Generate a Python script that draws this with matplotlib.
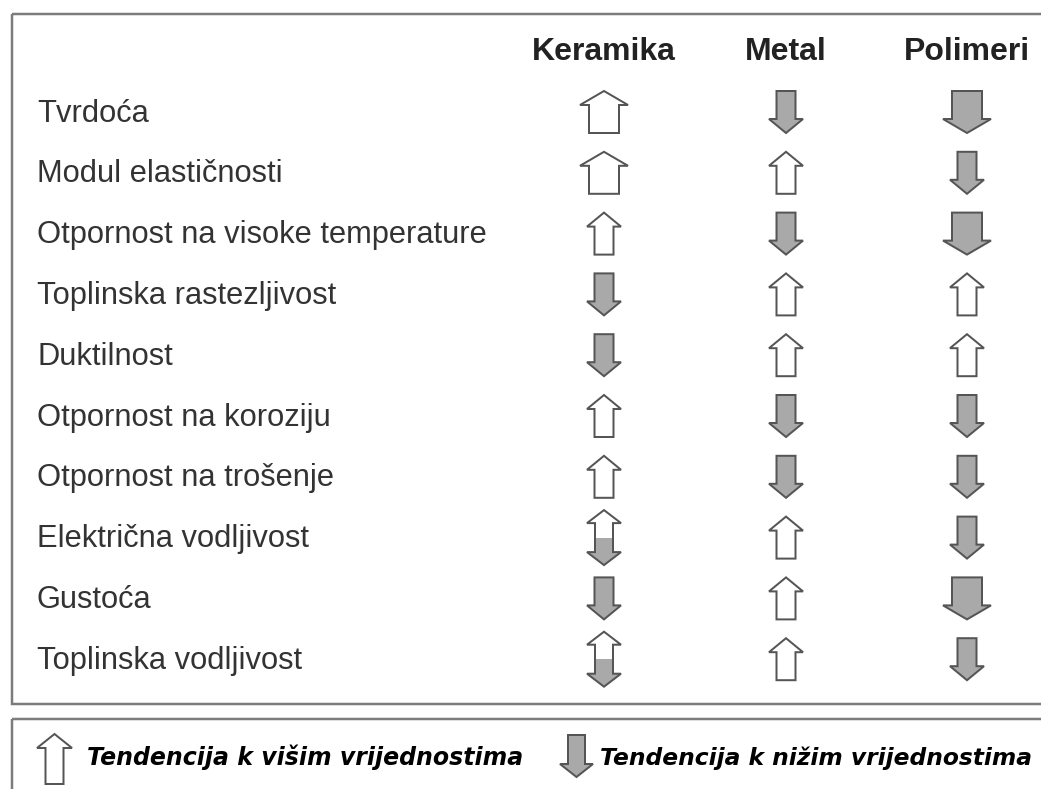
import matplotlib
matplotlib.use("Agg")
import matplotlib.pyplot as plt
from matplotlib.patches import Polygon, Rectangle
from matplotlib import font_manager

# ---------- DATA ----------------
svojstva = ["Tvrdoća", "Modul elastičnosti", "Otpornost na visoke temperature",
            "Toplinska rastezljivost", "Duktilnost", "Otpornost na koroziju",
            "Otpornost na trošenje", "Električna vodljivost", "Gustoća",
            "Toplinska vodljivost"]
materijali = ["Keramika", "Metal", "Polimeri"]
# tendencija: +2/+1 više (jako/umjereno), -1/-2 niže, 0 = ovisi (oba smjera)
keramika = [+2, +2, +1, -1, -1, +1, +1, 0, -1, 0]
metal    = [-1, +1, -1, +1, +1, -1, -1, +1, +1, +1]
polimeri = [-2, -1, -2, +1, +1, -1, -1, -1, -2, -1]
legenda  = ["Tendencija k višim vrijednostima", "Tendencija k nižim vrijednostima"]

# ---------- STIL ----------------
PX = 0.72                      # 1 px u pt (dpi 100)
C_EDGE = "#555555"; C_FILL = "#a9a9a9"; C_BOX = "#7c7c7c"
C_TXT = "#333333"; C_HEAD = "#222222"
COL_X = [604, 786, 967]        # sredine stupaca (px)
ROW0, ROW_DY = 110, 60.8       # prvi red, razmak redova
LABEL_X = 37

narrow = "Liberation Sans Narrow"
have_narrow = any(f.name == narrow for f in font_manager.fontManager.ttflist)

fig = plt.figure(figsize=(10.41, 7.89), dpi=100)
ax = fig.add_axes([0, 0, 1, 1])
ax.set_xlim(0, 1041); ax.set_ylim(789, 0); ax.axis("off")


def arrow(cx, cy, up, W, S, H, h, fill):
    t, b = cy - H/2, cy + H/2
    if up:
        pts = [(cx, t), (cx+W/2, t+h), (cx+S/2, t+h), (cx+S/2, b),
               (cx-S/2, b), (cx-S/2, t+h), (cx-W/2, t+h)]
    else:
        pts = [(cx, b), (cx+W/2, b-h), (cx+S/2, b-h), (cx+S/2, t),
               (cx-S/2, t), (cx-S/2, b-h), (cx-W/2, b-h)]
    ax.add_patch(Polygon(pts, closed=True, fc=fill, ec=C_EDGE, lw=2*PX, joinstyle="miter"))


def both_arrow(cx, cy, W=34, S=18, H=55, h=13):
    t, b = cy - H/2, cy + H/2
    pts = [(cx, t), (cx+W/2, t+h), (cx+S/2, t+h), (cx+S/2, b-h), (cx+W/2, b-h),
           (cx, b), (cx-W/2, b-h), (cx-S/2, b-h), (cx-S/2, t+h), (cx-W/2, t+h)]
    ax.add_patch(Polygon(pts, closed=True, fc="white", ec="none"))
    lower = Polygon(pts, closed=True, fc=C_FILL, ec="none")
    ax.add_patch(lower)
    lower.set_clip_path(Rectangle((cx - W, cy), 2*W, H, transform=ax.transData))
    ax.add_patch(Polygon(pts, closed=True, fc="none", ec=C_EDGE, lw=2*PX, joinstyle="miter"))


def cell(cx, cy, v):
    if v == 0:
        both_arrow(cx, cy)
        return
    W, S = (48, 30) if abs(v) == 2 else (34, 19)
    arrow(cx, cy, v > 0, W, S, 42, 14, "white" if v > 0 else C_FILL)


# okviri (desni rub izlazi iz slike)
ax.add_patch(Rectangle((12, 14), 1100, 690, fc="none", ec=C_BOX, lw=2.5*PX, clip_on=False))
ax.add_patch(Rectangle((12, 719), 1100, 120, fc="none", ec=C_BOX, lw=2.5*PX, clip_on=False))

# zaglavlje
for x, m in zip(COL_X, materijali):
    if have_narrow:
        ax.text(x, 60, m, ha="center", va="baseline", fontsize=27, family=narrow,
                weight="bold", color=C_HEAD)
    else:
        ax.text(x, 60, m, ha="center", va="baseline", fontsize=23,
                family="Liberation Sans", weight="bold", color=C_HEAD)

# redovi
for i, s in enumerate(svojstva):
    y = ROW0 + i*ROW_DY
    ax.text(LABEL_X, y + 11.5, s, ha="left", va="baseline", fontsize=22.2,
            family="Liberation Sans", color=C_TXT)
    for x, vals in zip(COL_X, (keramika, metal, polimeri)):
        cell(x, y + 2, vals[i])

# legenda
arrow(54.5, 759, True, 35, 18, 50, 14, "white")
ax.text(87, 765, legenda[0], ha="left", va="baseline", fontsize=17.0,
        family="DejaVu Sans", weight="bold", style="italic", color="black")
arrow(576.5, 756, False, 33, 17, 42, 13, C_FILL)
ax.text(600, 765, legenda[1], ha="left", va="baseline", fontsize=16.8,
        family="DejaVu Sans", weight="bold", style="italic", color="black")

fig.savefig("out.png", dpi=100)
